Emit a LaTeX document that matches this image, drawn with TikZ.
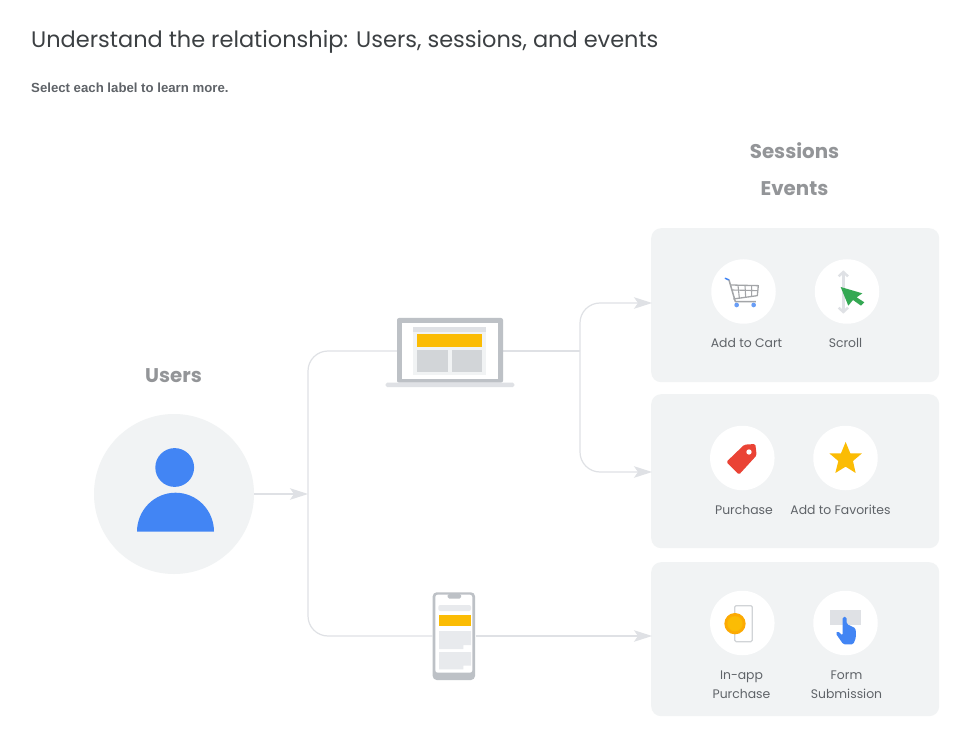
\documentclass[tikz,border=0pt]{standalone}
\usepackage{fontspec}
\setmainfont{Poppins}
\newfontfamily\robotoish{Liberation Sans}
\usetikzlibrary{arrows.meta}
\definecolor{cardgray}{HTML}{F1F3F4}
\definecolor{linegray}{HTML}{DFE1E5}
\definecolor{devgray}{HTML}{BDC1C6}
\definecolor{blockgray}{HTML}{D2D5D8}
\definecolor{lightblock}{HTML}{E8EAED}
\definecolor{gblue}{HTML}{4285F4}
\definecolor{gyellow}{HTML}{FBBC04}
\definecolor{gred}{HTML}{EA4335}
\definecolor{ggreen}{HTML}{34A853}
\definecolor{headgray}{HTML}{939598}
\definecolor{textgray}{HTML}{5F6368}
\definecolor{titlegray}{HTML}{3C4043}
\tikzset{
  card/.style={fill=cardgray,draw=none,rounded corners=10pt,minimum width=288pt,minimum height=154pt,inner sep=0pt,anchor=north west},
  iconbg/.style={circle,fill=white,draw=none,minimum size=64.5pt,inner sep=0pt},
  lab/.style={text=textgray,font=\fontsize{12.4}{18.6}\selectfont,align=center,inner sep=0pt,anchor=base},
  head/.style={text=headgray,font=\fontsize{19.8}{22}\selectfont\bfseries,inner sep=0pt,anchor=base},
  conn/.style={draw=linegray,line width=1.2pt,rounded corners=20pt},
  arr/.style={conn,-{Stealth[length=18pt,width=11.5pt,inset=4pt,fill=linegray]}},
  box/.style={inner sep=0pt,draw=none,minimum width=0pt},
}
\begin{document}
\begin{tikzpicture}[x=1pt,y=-1pt]
\useasboundingbox (0,0) rectangle (954,730);
\fill[white] (0,0) rectangle (954,730);
% texts
\node[text=titlegray,font=\fontsize{22.45}{26}\selectfont,inner sep=0pt,anchor=base west] (title) at (31,48) {Understand the relationship: Users, sessions, and events};
\node[text=textgray,font=\robotoish\fontsize{13.2}{16}\selectfont\bfseries,inner sep=0pt,anchor=base west] (sub) at (31,93) {Select each label to learn more.};
\node[head] (sessions) at (794.5,159) {Sessions};
\node[head] (events) at (794.5,196) {Events};
\node[head] (users) at (173.5,382) {Users};
% cards
\node[card] (c1) at (651,228) {};
\node[card] (c2) at (651,394) {};
\node[card] (c3) at (651,562) {};
% user
\node[circle,fill=cardgray,minimum size=160pt,inner sep=0pt] (user) at (174,494) {};
\fill[gblue] (174.7,467.5) circle (19.4);
\fill[gblue] (137,531.7) arc[start angle=180,end angle=360,x radius=38.5,y radius=39] -- cycle;
% device anchors
\node[box,minimum width=106pt,minimum height=65pt] (laptop) at (450,351) {};
\node[box,minimum width=43pt,minimum height=88pt] (phone) at (454,636) {};
\coordinate (trunk) at (308,494);
\coordinate (branch) at (580,351);
% connectors
\draw[conn] (laptop.west) -- (308,351) -- (308,636) -- (phone.west);
\draw[arr] (user.east) -- (trunk);
\draw[conn] (laptop.east) -- (branch);
\draw[arr] (branch) -- (580,303) -- (652,303);
\draw[arr] (branch) -- (580,472) -- (652,472);
\draw[arr] (phone.east) -- (652,636);
% laptop drawing
\fill[devgray,rounded corners=2pt] (397,382.7) -- (397,318) -- (503,318) -- (503,382.7) -- cycle;
\fill[white] (402,323.3) rectangle (498,378.7);
\fill[linegray,rounded corners=1.5pt] (385.7,382.7) rectangle (514.3,387);
\fill[cardgray] (413.3,327.3) rectangle (485.7,374.7);
\fill[linegray] (413.3,327.3) rectangle (485.7,332);
\fill[gyellow] (417,334.3) rectangle (482,347);
\fill[blockgray] (417,349.7) rectangle (448,372.3);
\fill[blockgray] (451.7,349.7) rectangle (482,372.3);
% phone drawing
\fill[devgray,rounded corners=4pt] (432.7,592.3) rectangle (475,680);
\fill[white,rounded corners=2.5pt] (435.3,594.7) rectangle (472.3,672.7);
\fill[devgray,rounded corners=1.5pt] (447.7,594) -- (447.7,598.7) -- (461,598.7) -- (461,594) -- cycle;
\fill[lightblock,rounded corners=2pt] (438.3,605) rectangle (471,611);
\fill[gyellow] (439,614.7) rectangle (471,626);
\fill[lightblock] (439,631) -- (471,631) -- (471,645) -- (463.3,645) -- (463.3,649) -- (439,649) -- cycle;
\fill[lightblock] (439,652) -- (471,652) -- (471,665.5) -- (463.3,665.5) -- (463.3,669.3) -- (439,669.3) -- cycle;
% icon backgrounds
\node[iconbg] (i1) at (743.5,291.5) {};
\node[iconbg] (i2) at (847,291.5) {};
\node[iconbg] (i3) at (742.3,458) {};
\node[iconbg] (i4) at (845.5,458) {};
\node[iconbg] (i5) at (742.3,623) {};
\node[iconbg] (i6) at (845.5,623) {};
% cart
\begin{scope}[shift={(650,225)},x=0.3333pt,y=-0.3333pt]
\draw[gblue,line width=1.5pt,line cap=round] (226,160) -- (237,165);
\draw[headgray!85,line width=1.5pt,line join=round] (237,165) -- (256,230) -- (318,230);
\draw[headgray!85,line width=1.3pt,line join=round] (243,180) -- (325,182) -- (322,212) -- (250,222);
\draw[headgray!85,line width=1.1pt] (246,195) -- (324,197) (264,181) -- (268,219) (285,181) -- (287,216) (305,182) -- (305,213);
\fill[gblue!80] (260,240) circle (7);
\fill[gblue!80] (311,240) circle (7);
% scroll arrows
\draw[linegray,line width=2.4pt] (580,142) -- (580,260);
\draw[linegray,line width=2.4pt] (566,154) -- (580,141) -- (594,154);
\draw[linegray,line width=2.4pt] (566,248) -- (580,261) -- (594,248);
\fill[ggreen] (572,186) -- (637,205) -- (620,217) -- (643,232) -- (633,242) -- (609,225) -- (595,242) -- cycle;
\end{scope}
% tag and star
\begin{scope}[shift={(650,392)},x=0.3333pt,y=-0.3333pt]
\fill[gred,rounded corners=1.5pt] (229,210) -- (283,158) -- (316,156) -- (320,190) -- (267,248) -- cycle;
\fill[white] (297,180) circle (8);
\fill[gyellow] (587,150) -- (601,184) -- (636,184) -- (609,207) -- (617,243) -- (587,224) -- (556,243) -- (565,207) -- (538,184) -- (573,184) -- cycle;
\end{scope}
% in-app and form
\begin{scope}[shift={(650,558)},x=0.3333pt,y=-0.3333pt]
\draw[devgray!70,line width=1.2pt,fill=white,rounded corners=1.5pt] (254,143) rectangle (307,251);
\fill[gyellow!70!orange] (255,197) circle (32);
\draw[gyellow!85!orange,fill=gyellow,line width=0.5pt] (255,197) circle (23);
\fill[linegray] (541,155) rectangle (633,201);
\fill[gblue,rounded corners=1.5pt] (578,177) -- (590,177) -- (590,198) -- (617,211) -- (618,238) -- (610,259) -- (580,259) -- (557,226) -- (563,219) -- (578,233) -- cycle;
\end{scope}
% labels
\node[lab] (l1) at (746.5,347.5) {Add to Cart};
\node[lab] (l2) at (845.5,347.5) {Scroll};
\node[lab] (l3) at (744,514.5) {Purchase};
\node[lab] (l4) at (840.5,514.5) {Add to Favorites};
\node[lab] (l5) at (741.5,698) {In-app\\Purchase};
\node[lab] (l6) at (846.5,698) {Form\\Submission};
\end{tikzpicture}
\end{document}
